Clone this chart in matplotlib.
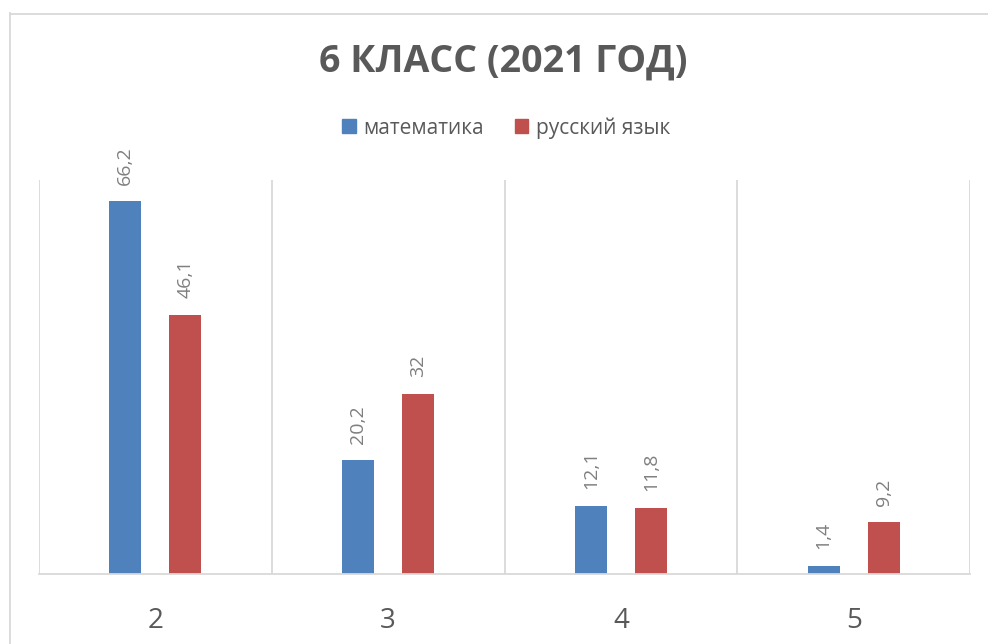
import matplotlib.pyplot as plt
from matplotlib.lines import Line2D
from matplotlib.patches import Patch

# data
grades = ["2", "3", "4", "5"]
math_vals = [66.2, 20.2, 12.1, 1.4]
rus_vals = [46.1, 32, 11.8, 9.2]
series_names = ["математика", "русский язык"]

blue = "#4F81BD"
red = "#C0504D"
gray_txt = "#595959"
lbl_txt = "#7F7F7F"
grid_c = "#D9D9D9"

plt.rcParams["font.family"] = ["Open Sans", "DejaVu Sans"]

fig = plt.figure(figsize=(9.88, 6.44), dpi=100)
ax = fig.add_axes([39 / 988, 70 / 644, 931 / 988, 394 / 644])

x = list(range(len(grades)))
w = 0.1375
off = 0.129
b1 = ax.bar([i - off for i in x], math_vals, w, color=blue)
b2 = ax.bar([i + off for i in x], rus_vals, w, color=red)

def fmt(v):
    s = f"{v:g}"
    return s.replace(".", ",")

for bars, vals in ((b1, math_vals), (b2, rus_vals)):
    for r, v in zip(bars, vals):
        ax.annotate(fmt(v), (r.get_x() + r.get_width() / 2, v),
                    xytext=(0, 12), textcoords="offset points",
                    rotation=90, ha="center", va="bottom",
                    fontsize=14, color=lbl_txt)

ax.set_xlim(-0.5, len(grades) - 0.5)
ax.set_ylim(0, 70)
ax.set_xticks(x)
ax.set_xticklabels(grades, fontsize=20, color=gray_txt)
ax.tick_params(axis="x", length=0, pad=24)
ax.set_yticks([])

for s in ["top", "right", "left"]:
    ax.spines[s].set_visible(False)
ax.spines["bottom"].set_color(grid_c)
ax.spines["bottom"].set_linewidth(1.3)

for b in [i - 0.5 for i in range(len(grades) + 1)]:
    ax.axvline(b, color=grid_c, lw=1.3, zorder=0)

fig.text(503 / 988, 1 - 62 / 644, "6 КЛАСС (2021 ГОД)", ha="center", va="center",
         fontsize=27, fontweight="bold", color=gray_txt)

handles = [Patch(color=blue), Patch(color=red)]
fig.legend(handles, series_names, loc="center", bbox_to_anchor=(506 / 988, 1 - 128 / 644),
           ncol=2, frameon=False, fontsize=15, handlelength=0.65, handleheight=0.65,
           handletextpad=0.35, columnspacing=1.5, labelcolor=gray_txt)

# outer chart border
fig.add_artist(Line2D([9.5 / 988, 9.5 / 988], [0, 1 - 13 / 644], transform=fig.transFigure,
                      color=grid_c, lw=1.3))
fig.add_artist(Line2D([9.5 / 988, 1], [1 - 13.5 / 644, 1 - 13.5 / 644], transform=fig.transFigure,
                      color=grid_c, lw=1.3))

fig.savefig("out.png", dpi=100, facecolor="white")
